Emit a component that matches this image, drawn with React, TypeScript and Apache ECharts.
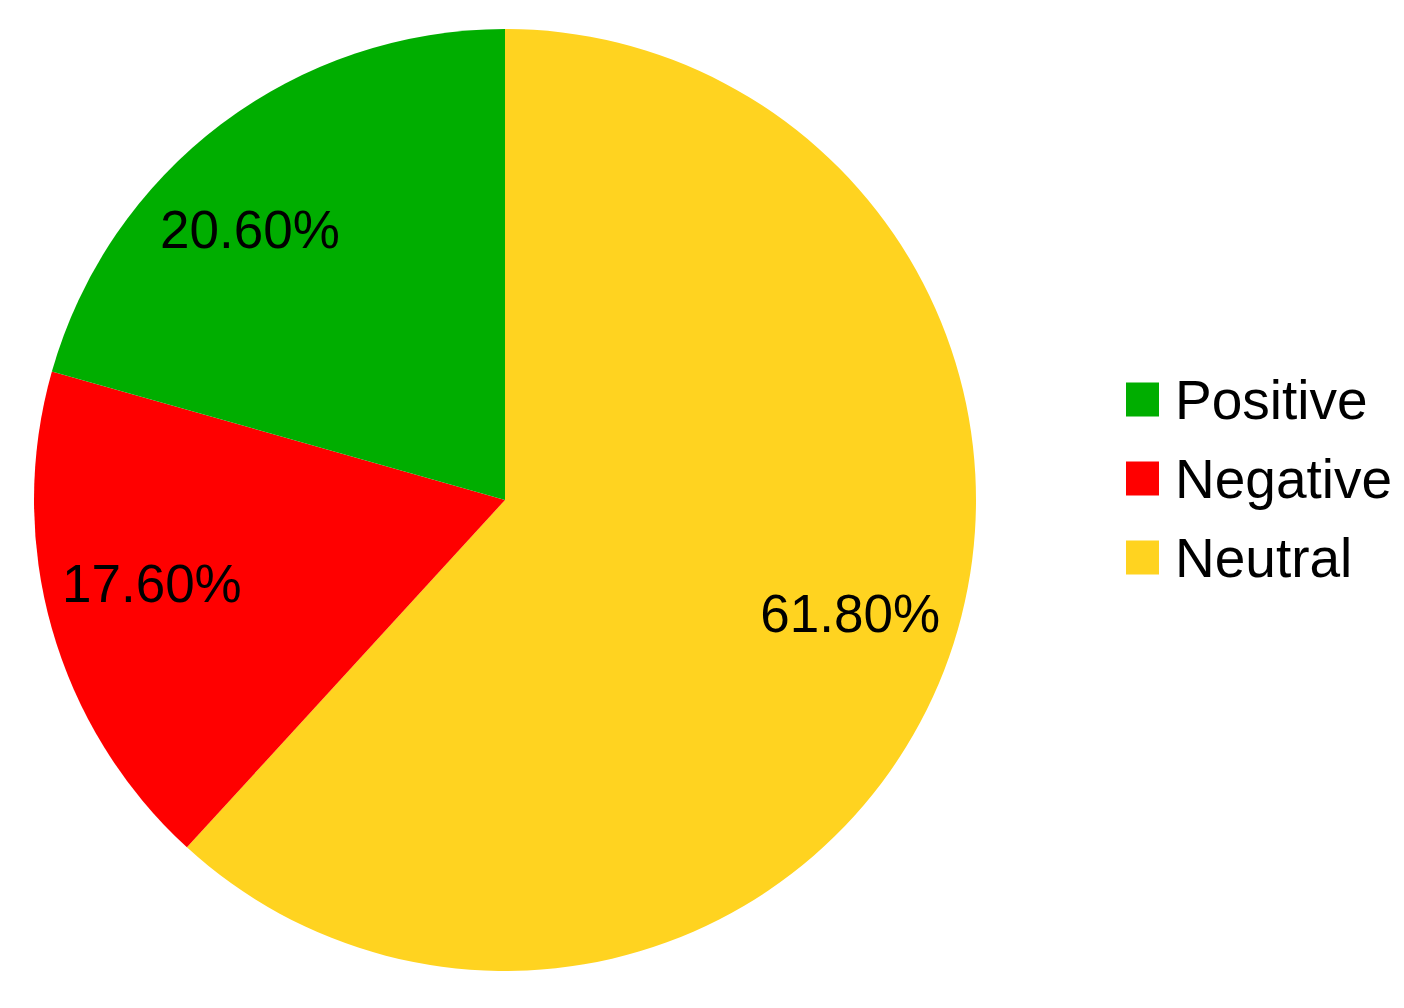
import React, { useEffect, useRef } from "react";
import * as echarts from "echarts";

const categories = ["Neutral", "Negative", "Positive"];
const values = [61.8, 17.6, 20.6];
const colors = ["#ffd320", "#ff0000", "#00ae00"];
const legendOrder = ["Positive", "Negative", "Neutral"];
const labelTweaks = [
  [5, -19],
  [-2, -16],
  [-35, 21],
];

export default function App() {
  const ref = useRef<HTMLDivElement>(null);
  useEffect(() => {
    if (!ref.current) return;
    const chart = echarts.init(ref.current, null, { renderer: "svg" });
    const cx = 505;
    const cy = 500;
    const R = 471;
    const labelR = 365;
    const total = values.reduce((a, b) => a + b, 0);
    const mids: number[] = [];
    let cum = 0;
    values.forEach((v) => {
      mids.push(((90 - ((cum + v / 2) / total) * 360) * Math.PI) / 180);
      cum += v;
    });
    chart.setOption({
      animation: false,
      backgroundColor: "#ffffff",
      legend: {
        orient: "vertical",
        left: 1121,
        top: 367,
        icon: "rect",
        itemWidth: 33,
        itemHeight: 34,
        itemGap: 24,
        data: legendOrder,
        textStyle: {
          fontFamily: "Liberation Sans",
          fontSize: 55,
          color: "#000000",
          padding: [0, 0, 0, 11],
        },
      },
      series: [
        {
          type: "pie",
          center: [cx, cy],
          radius: [0, R],
          startAngle: 90,
          clockwise: true,
          label: {
            show: true,
            position: "inside",
            formatter: (p: any) => p.value.toFixed(2) + "%",
            fontFamily: "Liberation Sans",
            fontSize: 53,
            color: "#000000",
          },
          labelLine: { show: false },
          labelLayout: (p: any) => {
            const i = p.dataIndex;
            const a = mids[i];
            const t = labelTweaks[i] || [0, 0];
            return {
              x: cx + labelR * Math.cos(a) + t[0],
              y: cy - labelR * Math.sin(a) + t[1],
              align: "center",
              verticalAlign: "middle",
            };
          },
          emphasis: { disabled: true },
          itemStyle: { borderWidth: 0 },
          data: categories.map((name, i) => ({
            name,
            value: values[i],
            itemStyle: { color: colors[i] },
          })),
        },
      ],
    });
    return () => chart.dispose();
  }, []);
  return (
    <div
      ref={ref}
      style={{ position: "fixed", left: 0, top: 0, width: 1404, height: 1008 }}
    />
  );
}
